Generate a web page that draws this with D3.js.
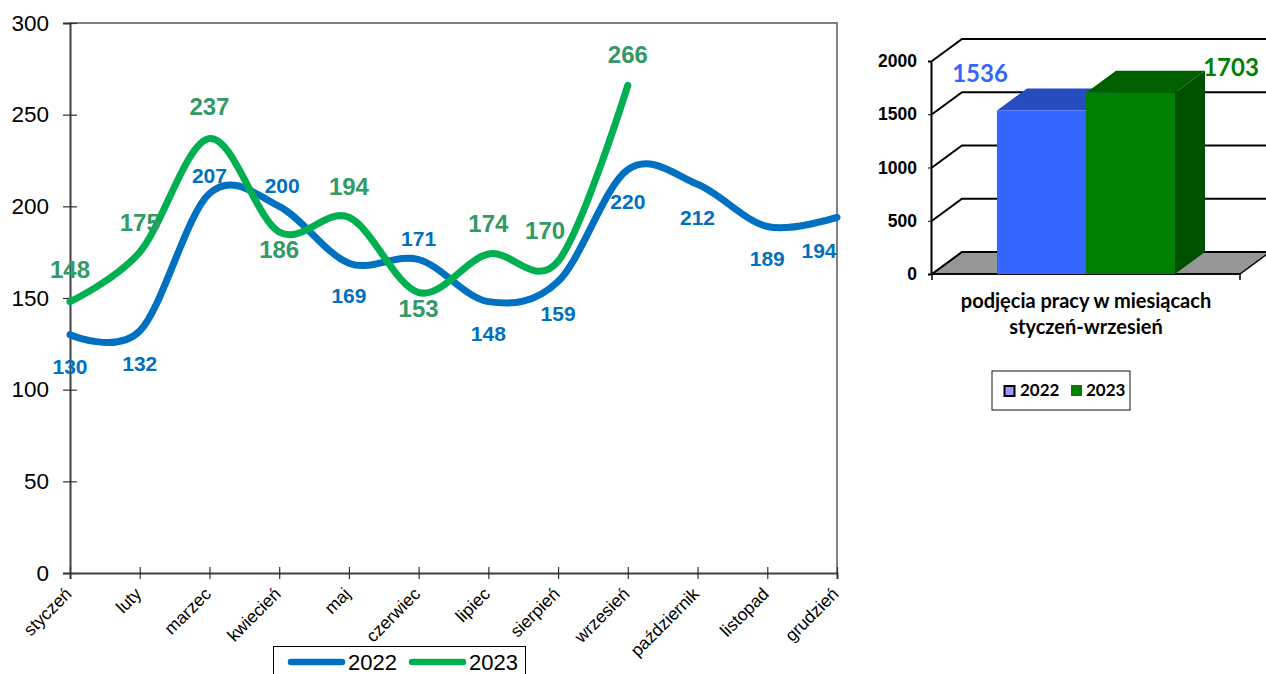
<!DOCTYPE html>
<html lang="pl">
<head>
<meta charset="utf-8">
<script src="https://cdn.jsdelivr.net/npm/d3@7"></script>
<style>
  html, body { margin: 0; background: #fff; overflow: hidden; }
  svg { display: block; }
</style>
</head>
<body>
<svg id="chart" width="1266" height="674"></svg>
<script>
const months = ["styczeń", "luty", "marzec", "kwiecień", "maj", "czerwiec", "lipiec", "sierpień", "wrzesień", "październik", "listopad", "grudzień"];
const values2022 = [130, 132, 207, 200, 169, 171, 148, 159, 220, 212, 189, 194];
const values2023 = [148, 175, 237, 186, 194, 153, 174, 170, 266];
const yTicks = [0, 50, 100, 150, 200, 250, 300];

const barYears = ["2022", "2023"];
const barTotals = [1536, 1703];
const barTicks = [0, 500, 1000, 1500, 2000];
const barCategory = ["podjęcia pracy w miesiącach", "styczeń-wrzesień"];

// label offsets from the data point, [dx, dy]
const offsets2022 = [[0, 32], [0, 32], [0, -18], [3, -21], [0, 32], [0, -21], [0, 32], [0, 32], [0, 32], [0, 33], [0, 32], [-18, 33]];
const offsets2023 = [[0, -32], [0, -30], [0, -32], [0, 17], [0, -31], [0, 16], [0, -31], [-13, -31], [0, -31]];

const svg = d3.select("#chart");
const ARIAL = "'Liberation Sans', Arial, sans-serif";
const CALIBRI = "Lato, 'Open Sans', sans-serif";

// ---- line chart ----
const x = d3.scalePoint().domain(months).range([70, 837]);
const y = d3.scaleLinear().domain([0, 300]).range([573, 23]);

svg.append("path")
    .attr("d", `M70,23H837V573`)
    .attr("fill", "none")
    .attr("stroke", "#808080")
    .attr("stroke-width", 2);

const gY = svg.append("g")
    .attr("transform", "translate(70,0)")
    .call(d3.axisLeft(y).tickValues(yTicks).tickSize(7).tickPadding(14));
gY.select(".domain").attr("stroke", "#404040").attr("stroke-width", 2);
gY.selectAll(".tick line").attr("x1", -7).attr("x2", 7).attr("stroke", "#303030").attr("stroke-width", 1.2);
gY.selectAll(".tick text")
    .attr("font-family", ARIAL)
    .attr("font-size", 22.5)
    .attr("fill", "#000");

const gX = svg.append("g")
    .attr("transform", "translate(0,573)")
    .call(d3.axisBottom(x).tickSize(6));
gX.select(".domain").attr("stroke", "#404040").attr("stroke-width", 2);
gX.selectAll(".tick line").attr("y1", -6).attr("y2", 6).attr("stroke", "#303030").attr("stroke-width", 1.2);
gX.selectAll(".tick text")
    .attr("font-family", ARIAL)
    .attr("font-size", 17.5)
    .attr("fill", "#000")
    .attr("text-anchor", "end")
    .attr("x", -14)
    .attr("y", 11)
    .attr("dy", "0.35em")
    .attr("transform", "rotate(-45)");

const line = d3.line()
    .x((d, i) => x(months[i]))
    .y(d => y(d))
    .curve(d3.curveCardinal.tension(0));

function drawSeries(values, offsets, lineColor, labelColor, labelSize) {
    svg.append("path")
        .datum(values)
        .attr("d", line)
        .attr("fill", "none")
        .attr("stroke", lineColor)
        .attr("stroke-width", 7)
        .attr("stroke-linecap", "round");
    return () => {
        svg.append("g")
            .selectAll("text")
            .data(values)
            .join("text")
            .attr("x", (d, i) => x(months[i]) + offsets[i][0])
            .attr("y", (d, i) => y(d) + offsets[i][1])
            .attr("dy", "0.36em")
            .attr("text-anchor", "middle")
            .attr("font-family", ARIAL)
            .attr("font-weight", "bold")
            .attr("font-size", labelSize)
            .attr("fill", labelColor)
            .text(d => d);
    };
}

const labels2022 = drawSeries(values2022, offsets2022, "#0070C0", "#0070C0", 21);
const labels2023 = drawSeries(values2023, offsets2023, "#00B050", "#339966", 24);
labels2022();
labels2023();

// line chart legend, box runs off the bottom of the page
const legend = svg.append("g");
legend.append("rect")
    .attr("x", 273.5).attr("y", 646.5)
    .attr("width", 252).attr("height", 40)
    .attr("fill", "#fff").attr("stroke", "#000");
[["2022", "#0070C0", 288], ["2023", "#00B050", 409]].forEach(([name, color, lx]) => {
    legend.append("line")
        .attr("x1", lx + 3).attr("x2", lx + 54)
        .attr("y1", 662).attr("y2", 662)
        .attr("stroke", color).attr("stroke-width", 6.5)
        .attr("stroke-linecap", "round");
    legend.append("text")
        .attr("x", lx + 60).attr("y", 670)
        .attr("font-family", ARIAL).attr("font-size", 22)
        .text(name);
});

// ---- 3d bar chart ----
const depthX = 30, depthY = 22;
const by = d3.scaleLinear().domain([0, 2000]).range([274, 61]);
const bx = d3.scaleBand().domain(barYears).range([997, 1175]);
const wallLeft = 932, wallRight = 1240;

// floor
svg.append("path")
    .attr("d", `M${wallLeft},274L${wallLeft + depthX},${274 - depthY}H${wallRight + depthX}L${wallRight},274Z`)
    .attr("fill", "#969696")
    .attr("stroke", "#000")
    .attr("stroke-width", 1.5);

// side wall and back wall gridlines
const grid = svg.append("g").attr("fill", "none").attr("stroke", "#000").attr("stroke-width", 2);
barTicks.forEach(t => {
    grid.append("path")
        .attr("d", `M${wallLeft},${by(t)}L${wallLeft + depthX},${by(t) - depthY}H${wallRight + depthX}`);
});

const gBarY = svg.append("g")
    .attr("transform", `translate(${wallLeft - 1},0)`)
    .call(d3.axisLeft(by).tickValues(barTicks).tickFormat(d3.format("d")).tickSize(3).tickPadding(11));
gBarY.select(".domain").attr("stroke", "#000").attr("stroke-width", 2);
gBarY.selectAll(".tick line").attr("stroke", "#000");
gBarY.selectAll(".tick text")
    .attr("font-family", ARIAL)
    .attr("font-weight", "bold")
    .attr("font-size", 17.5)
    .attr("fill", "#000");

svg.append("path")
    .attr("d", `M${wallLeft},280V274H${wallRight}V280`)
    .attr("fill", "none")
    .attr("stroke", "#000")
    .attr("stroke-width", 1.5);

const barColors = [
    { front: "#3366FF", top: "#264DBF", side: "#1F3F9C" },
    { front: "#008000", top: "#006000", side: "#005000" }
];
barYears.forEach((year, i) => {
    const x0 = bx(year), x1 = x0 + bx.bandwidth(), top = by(barTotals[i]);
    const c = barColors[i];
    svg.append("path")
        .attr("d", `M${x1},274V${top}L${x1 + depthX},${top - depthY}V${274 - depthY}Z`)
        .attr("fill", c.side);
    svg.append("path")
        .attr("d", `M${x0},${top}L${x0 + depthX},${top - depthY}H${x1 + depthX}L${x1},${top}Z`)
        .attr("fill", c.top);
    svg.append("rect")
        .attr("x", x0).attr("y", top)
        .attr("width", bx.bandwidth()).attr("height", 274 - top)
        .attr("fill", c.front);
});

svg.append("text")
    .attr("x", 980).attr("y", 82)
    .attr("text-anchor", "middle")
    .attr("font-family", CALIBRI).attr("font-weight", "bold").attr("font-size", 24)
    .attr("fill", "#3366FF")
    .text(barTotals[0]);
svg.append("text")
    .attr("x", 1231).attr("y", 76)
    .attr("text-anchor", "middle")
    .attr("font-family", CALIBRI).attr("font-weight", "bold").attr("font-size", 24)
    .attr("fill", "#008000")
    .text(barTotals[1]);

svg.append("g")
    .selectAll("text")
    .data(barCategory)
    .join("text")
    .attr("x", 1086)
    .attr("y", (d, i) => 308 + i * 26)
    .attr("text-anchor", "middle")
    .attr("font-family", CALIBRI)
    .attr("font-weight", "bold")
    .attr("font-size", 20)
    .attr("fill", "#000")
    .text(d => d);

// bar chart legend
const barLegend = svg.append("g");
barLegend.append("rect")
    .attr("x", 992).attr("y", 371)
    .attr("width", 138).attr("height", 39)
    .attr("fill", "#fff").attr("stroke", "#111").attr("stroke-width", 1);
barLegend.append("rect")
    .attr("x", 1004.5).attr("y", 386)
    .attr("width", 10).attr("height", 10)
    .attr("fill", "#9999FF").attr("stroke", "#000").attr("stroke-width", 2);
barLegend.append("rect")
    .attr("x", 1071).attr("y", 385)
    .attr("width", 11).attr("height", 11)
    .attr("fill", "#008000");
[[barYears[0], 1020], [barYears[1], 1086]].forEach(([name, lx]) => {
    barLegend.append("text")
        .attr("x", lx).attr("y", 396)
        .attr("font-family", CALIBRI).attr("font-weight", "bold").attr("font-size", 17)
        .text(name);
});
</script>
</body>
</html>
